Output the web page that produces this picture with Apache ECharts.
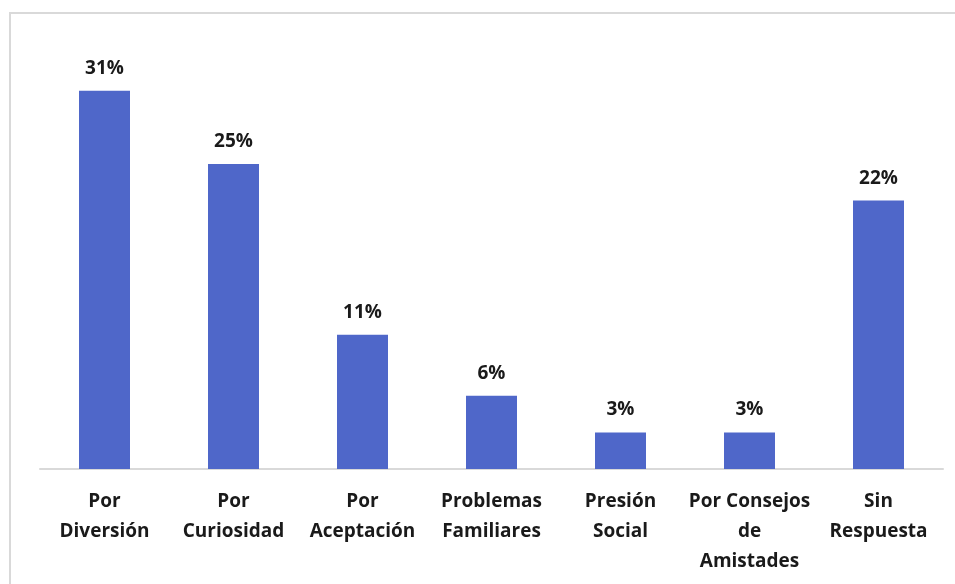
<!DOCTYPE html>
<html><head><meta charset="utf-8">
<script src="https://cdn.jsdelivr.net/npm/echarts@6/dist/echarts.min.js"></script>
<style>html,body{margin:0;padding:0;background:#fff}#c{width:955px;height:584px}</style>
</head><body><div id="c"></div>
<script>
const categories = ['Por\nDiversión','Por\nCuriosidad','Por\nAceptación','Problemas\nFamiliares','Presión\nSocial','Por Consejos\nde\nAmistades','Sin\nRespuesta'];
const values = [31, 25, 11, 6, 3, 3, 22];
const chart = echarts.init(document.getElementById('c'));
chart.setOption({
  animation: false,
  graphic: [{type:'rect', shape:{x:10,y:13,width:960,height:600}, style:{fill:'none', stroke:'#d9d9d9', lineWidth:2}}],
  grid: {left: 40, right: 12, top: 42, bottom: 115},
  xAxis: {type:'category', data: categories,
    axisLine:{lineStyle:{color:'#d9d9d9', width:2}}, axisTick:{show:false},
    axisLabel:{interval:0, color:'#1a1a1a', fontWeight:'bold', fontSize:19, fontFamily:'Open Sans', lineHeight:30, margin:18}},
  yAxis: {type:'value', min:0, max:35, show:false, splitLine:{show:false}},
  series: [{type:'bar', data: values, barWidth: 51, itemStyle:{color:'#4F67C9'},
    label:{show:true, position:'top', distance:13, formatter:'{c}%', color:'#1a1a1a', fontWeight:'bold', fontSize:19, fontFamily:'Open Sans'}}]
});
</script></body></html>
